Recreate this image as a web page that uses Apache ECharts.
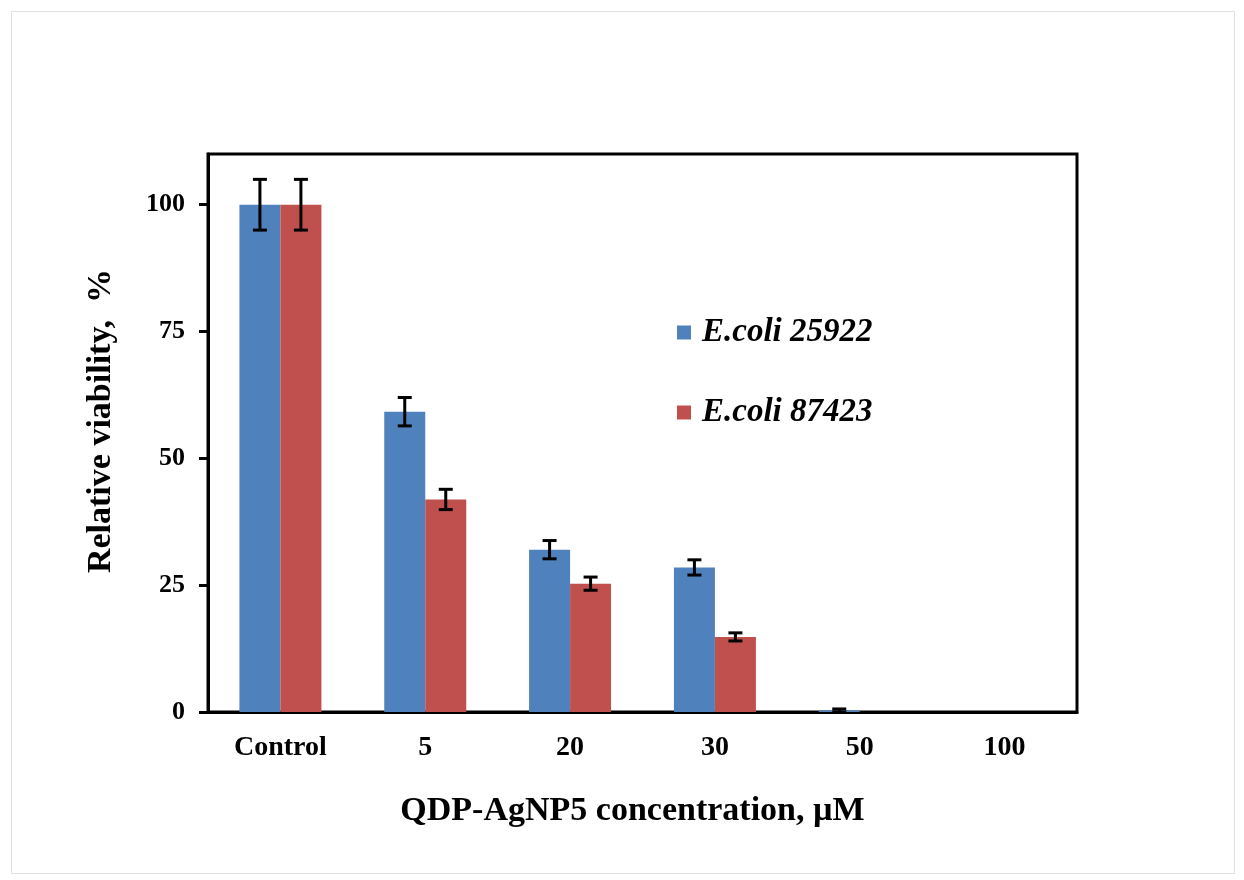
<!DOCTYPE html>
<html>
<head>
<meta charset="utf-8">
<script src="https://cdn.jsdelivr.net/npm/echarts@6/dist/echarts.min.js"></script>
<style>html,body{margin:0;padding:0;background:#fff;}#c{width:1244px;height:880px;}</style>
</head>
<body>
<div id="c"></div>
<script>
var categories = ['Control', '5', '20', '30', '50', '100'];
var seriesNames = ['E.coli 25922', 'E.coli 87423'];
var values25922 = [100, 59.2, 32.0, 28.5, 0.3, 0];
var errors25922 = [5, 2.8, 1.8, 1.5, 0.3, 0];
var values87423 = [100, 41.9, 25.3, 14.8, 0, 0];
var errors87423 = [5, 2.0, 1.3, 0.8, 0, 0];
var yTicks = [0, 25, 50, 75, 100];

var BAR_W = 41;
var FONT = '"Liberation Serif", "Times New Roman", serif';

function errData(vals, errs) {
  return vals.map(function (v, i) { return [i, v, errs[i]]; });
}
function makeErr(offsetSign) {
  return function (params, api) {
    var idx = api.value(0), v = api.value(1), e = api.value(2);
    if (!e) return null;
    var top = api.coord([idx, v + e]);
    var bot = api.coord([idx, v - e]);
    var x = top[0] + offsetSign * BAR_W / 2;
    var cap = 7;
    var st = { stroke: '#000', lineWidth: 3 };
    return {
      type: 'group',
      children: [
        { type: 'line', shape: { x1: x, y1: top[1], x2: x, y2: bot[1] }, style: st },
        { type: 'line', shape: { x1: x - cap, y1: top[1], x2: x + cap, y2: top[1] }, style: st },
        { type: 'line', shape: { x1: x - cap, y1: bot[1], x2: x + cap, y2: bot[1] }, style: st }
      ]
    };
  };
}

var chart = echarts.init(document.getElementById('c'));
chart.setOption({
  backgroundColor: '#fff',
  animation: false,
  graphic: [{
    type: 'rect', left: 9, top: 9, shape: { width: 1223, height: 862 },
    style: { fill: 'none', stroke: '#e0e0e0', lineWidth: 1 }, silent: true
  }],
  grid: { left: 208, right: 167, top: 154, bottom: 168, show: true, borderColor: '#000', borderWidth: 3, backgroundColor: 'transparent' },
  legend: {
    orient: 'vertical', left: 672, top: 310,
    icon: 'rect', itemWidth: 14, itemHeight: 14, itemGap: 45,
    data: seriesNames,
    textStyle: { fontFamily: FONT, fontSize: 33, fontWeight: 'bold', fontStyle: 'italic', color: '#000', lineHeight: 35, padding: [0, 0, 0, 6] }
  },
  xAxis: {
    type: 'category', data: categories,
    name: 'QDP-AgNP5 concentration, \u00b5M', nameLocation: 'middle', nameGap: 82,
    nameTextStyle: { fontFamily: FONT, fontSize: 34, fontWeight: 'bold', color: '#000', padding: [0, 20, 0, 0] },
    axisLine: { lineStyle: { color: '#000', width: 3 } },
    axisTick: { show: false },
    axisLabel: { fontFamily: FONT, fontSize: 28, fontWeight: 'bold', color: '#000', margin: 22 }
  },
  yAxis: {
    type: 'value', min: 0, max: 110, interval: 25,
    name: 'Relative viability,  %', nameLocation: 'middle', nameGap: 90,
    nameTextStyle: { fontFamily: FONT, fontSize: 34, fontWeight: 'bold', color: '#000', padding: [0, 0, 0, 24] },
    axisLine: { show: true, lineStyle: { color: '#000', width: 3 } },
    axisTick: { show: true, inside: false, length: 9, lineStyle: { color: '#000', width: 3 } },
    splitLine: { show: false },
    axisLabel: {
      fontFamily: FONT, fontSize: 26, fontWeight: 'bold', color: '#000', margin: 23,
      showMaxLabel: false,
      formatter: function (v) { return yTicks.indexOf(v) >= 0 ? String(v) : ''; }
    }
  },
  series: [
    { name: seriesNames[0], type: 'bar', data: values25922, barWidth: BAR_W, barGap: '0%', itemStyle: { color: '#4F81BD' } },
    { name: seriesNames[1], type: 'bar', data: values87423, barWidth: BAR_W, barGap: '0%', itemStyle: { color: '#C0504D' } },
    { type: 'custom', renderItem: makeErr(-1), data: errData(values25922, errors25922), z: 10, silent: true, encode: { x: 0, y: 1 } },
    { type: 'custom', renderItem: makeErr(1), data: errData(values87423, errors87423), z: 10, silent: true, encode: { x: 0, y: 1 } }
  ]
});
</script>
</body>
</html>
